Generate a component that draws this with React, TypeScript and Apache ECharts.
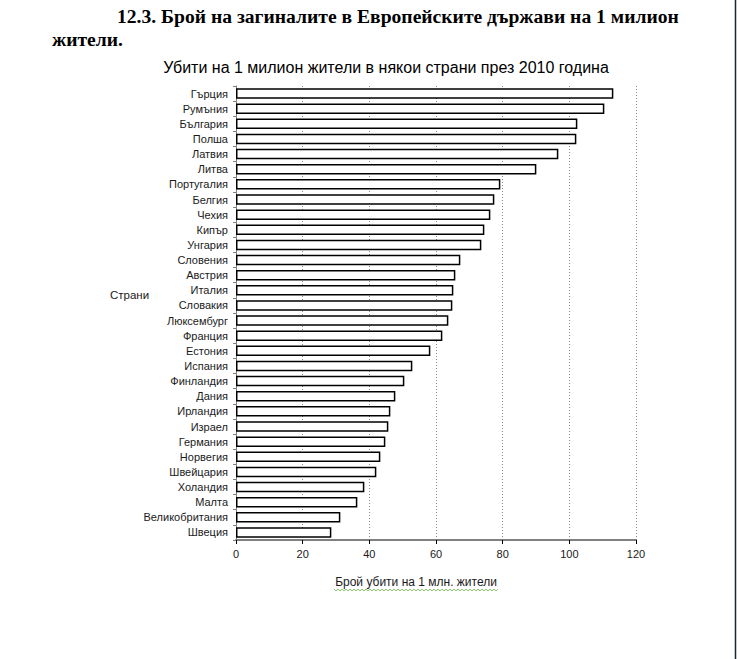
import React, { useEffect, useRef } from "react";
import * as echarts from "echarts";

const countries = [
  "Гърция", "Румъния", "България", "Полша", "Латвия", "Литва", "Португалия", "Белгия",
  "Чехия", "Кипър", "Унгария", "Словения", "Австрия", "Италия", "Словакия", "Люксембург",
  "Франция", "Естония", "Испания", "Финландия", "Дания", "Ирландия", "Израел", "Германия",
  "Норвегия", "Швейцария", "Холандия", "Малта", "Великобритания", "Швеция",
];

const killedPerMillion = [
  113.2, 110.5, 102.4, 102.1, 96.7, 90.1, 79.3, 77.5,
  76.3, 74.5, 73.6, 67.3, 65.8, 65.2, 64.9, 63.7,
  61.9, 58.3, 52.9, 50.5, 47.8, 46.3, 45.7, 44.8,
  43.3, 42.1, 38.5, 36.4, 31.3, 28.6,
];

const xTicks = { min: 0, max: 120, interval: 20 };

const headerLine1 = "12.3. Брой на загиналите в Европейските държави на 1 милион";
const headerLine2 = "жители.";
const chartTitle = "Убити на 1 милион жители в някои страни през 2010 година";
const yName = "Страни";
const xName = "Брой убити на 1 млн. жители";

export default function App() {
  const ref = useRef<HTMLDivElement>(null);

  useEffect(() => {
    if (!ref.current) return;
    const chart = echarts.init(ref.current, undefined, { renderer: "svg" });

    const wave: number[][] = [];
    for (let x = 334, i = 0; x <= 498; x += 2, i++) {
      wave.push([x, i % 2 === 0 ? 589 : 591]);
    }

    const sans = "Liberation Sans, Arial, sans-serif";

    chart.setOption({
      animation: false,
      backgroundColor: "#ffffff",
      grid: { left: 236, top: 86, width: 400, height: 454, containLabel: false },
      xAxis: {
        type: "value",
        min: xTicks.min,
        max: xTicks.max,
        interval: xTicks.interval,
        axisLine: { show: true, lineStyle: { color: "#808080", width: 2 } },
        axisTick: { show: true, length: 4, lineStyle: { color: "#000000", width: 1 } },
        axisLabel: { color: "#1a1a1a", fontSize: 11, fontFamily: sans, margin: 8 },
        splitLine: { show: true, lineStyle: { color: "#8a8a8a", type: [1, 2], width: 1 } },
      },
      yAxis: {
        type: "category",
        data: countries,
        inverse: true,
        axisLine: { show: true, lineStyle: { color: "#808080", width: 1 } },
        axisTick: { show: true, length: 3, lineStyle: { color: "#808080", width: 1 } },
        axisLabel: { color: "#1a1a1a", fontSize: 11, fontFamily: sans, margin: 8 },
        splitLine: { show: false },
      },
      series: [
        {
          type: "bar",
          data: killedPerMillion,
          barWidth: 10.5,
          itemStyle: { color: "#ffffff", borderColor: "#000000", borderWidth: 1.5 },
        },
      ],
      graphic: [
        {
          type: "text",
          left: 117,
          top: 6,
          style: {
            text: headerLine1,
            font: "bold 19.6px 'Liberation Serif', 'Times New Roman', serif",
            fill: "#000000",
          },
        },
        {
          type: "text",
          left: 52,
          top: 29,
          style: {
            text: headerLine2,
            font: "bold 19.6px 'Liberation Serif', 'Times New Roman', serif",
            fill: "#000000",
          },
        },
        {
          type: "text",
          x: 386,
          y: 67,
          style: {
            text: chartTitle,
            font: "16px " + sans,
            fill: "#000000",
            align: "center",
            verticalAlign: "middle",
          },
        },
        {
          type: "text",
          x: 110,
          y: 295,
          style: {
            text: yName,
            font: "11.5px " + sans,
            fill: "#1a1a1a",
            align: "left",
            verticalAlign: "middle",
          },
        },
        {
          type: "text",
          x: 416,
          y: 582,
          style: {
            text: xName,
            font: "12px " + sans,
            fill: "#1a1a1a",
            align: "center",
            verticalAlign: "middle",
          },
        },
        {
          type: "polyline",
          shape: { points: wave },
          style: { stroke: "#6fbf4a", lineWidth: 0.8, fill: "none" },
          silent: true,
        },
        {
          type: "line",
          shape: { x1: 735.5, y1: 0, x2: 735.5, y2: 659 },
          style: { stroke: "#1a2533", lineWidth: 1.5 },
          silent: true,
        },
      ],
    });

    return () => chart.dispose();
  }, []);

  return (
    <div
      ref={ref}
      style={{ position: "absolute", left: 0, top: 0, width: 737, height: 659, background: "#fff" }}
    />
  );
}
